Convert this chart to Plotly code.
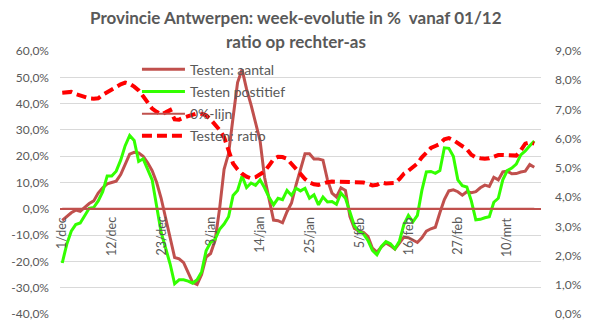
import plotly.graph_objects as go

# ---- data ----
n_days = 106

testen_aantal = [
    -4.4, -3, -1.5, -0.5, -1, 0.5, 2, 3, 6, 8,
    9.5, 10, 10.5, 13, 17, 20.8, 21.5, 21.2, 20, 17.5,
    14.5, 10, 4, -3, -11, -18.5, -19, -20.5, -24, -28,
    -28.8, -25, -18.4, -17, -12, 0, 15, 21, 34.7, 48,
    53, 45.5, 39.5, 32.5, 26, 12, 4, -4.3, -4.5, -5.3,
    -1.1, 2.2, 9, 15, 20.9, 20.9, 18.9, 18.9, 18.5, 11,
    6, 4.5, 8, 7, -3, -7.5, -8.5, -9, -10.5, -15,
    -16.5, -14.5, -13, -14, -15.3, -13, -10.8, -11, -12, -12.8,
    -11, -8.5, -7.6, -7, -1.5, 3.5, 6.8, 7.2, 6.5, 5.2,
    6.5, 6.1, 6.5, 8, 9, 8.5, 12, 11, 14, 14.3,
    13.3, 13.4, 14, 14.3, 16.8, 15.8,
]

testen_positief = [
    -20.6, -13.5, -8.5, -6, -5.4, -2.5, 0.2, 0.5, 3, 6.5,
    12.5, 12.5, 14.3, 18.5, 24, 27.9, 26, 18, 19, 15,
    11, 1, -9, -15, -21, -28.5, -27, -27, -27.5, -28.3,
    -27, -24, -16, -12.8, -11.6, -7.8, -5.8, -3, 5.1, 7,
    12.5, 8.1, 9.8, 8.9, 11, 8, 4.4, 1.5, 4, 3.5,
    7, 5.1, 7.8, 6.8, 7.8, 4, 5.3, 1.5, 4.5, 2.6,
    2.8, 1.7, 6, 4, -1, -6.5, -8.5, -9.5, -12, -15.8,
    -17.5, -14.3, -12.5, -13.3, -15.2, -12.3, -6, -2.5, -5, -2.5,
    7, 14, 14.2, 13.5, 14.5, 23.2, 23, 20, 11, 8.8,
    8.3, 3, -4.2, -4, -3.4, -3, 2.5, 4, 11, 14.5,
    15.5, 17, 20.5, 22, 24, 25.8,
]

nul_lijn = [0.0] * n_days

testen_ratio = [
    7.57, 7.6, 7.6, 7.53, 7.47, 7.42, 7.38, 7.37, 7.38, 7.5,
    7.6, 7.7, 7.79, 7.86, 7.92, 7.88, 7.78, 7.65, 7.45, 7.25,
    7.03, 6.92, 6.83, 6.9, 6.98, 6.66, 6.65, 6.72, 6.77, 6.83,
    6.87, 6.85, 6.8, 6.66, 6.5, 6.3, 6.05, 5.55, 5.15, 4.95,
    4.8, 4.7, 4.64, 4.68, 4.78, 4.88, 5.08, 5.3, 5.38, 5.37,
    5.31, 5.13, 4.95, 4.8, 4.62, 4.5, 4.44, 4.42, 4.48, 4.51,
    4.53, 4.53, 4.53, 4.53, 4.53, 4.53, 4.53, 4.5, 4.46, 4.4,
    4.42, 4.5, 4.47, 4.46, 4.48, 4.62, 4.8, 4.9, 5.02, 5.15,
    5.36, 5.52, 5.68, 5.75, 5.82, 5.98, 6.02, 5.95, 5.85, 5.75,
    5.64, 5.45, 5.36, 5.33, 5.31, 5.33, 5.39, 5.44, 5.44, 5.44,
    5.43, 5.42, 5.6, 5.83, 5.87, 5.83,
]

tick_days = [0, 11, 22, 33, 44, 55, 66, 77, 88, 99]
tick_labels = ["1/dec", "12/dec", "23/dec", "3/jan", "14/jan",
               "25/jan", "5/feb", "16/feb", "27/feb", "10/mrt"]

left_ticks = [60, 50, 40, 30, 20, 10, 0, -10, -20, -30, -40]
left_labels = ["60,0%", "50,0%", "40,0%", "30,0%", "20,0%", "10,0%",
               "0,0%", "-10,0%", "-20,0%", "-30,0%", "-40,0%"]
right_ticks = [9, 8, 7, 6, 5, 4, 3, 2, 1, 0]
right_labels = ["9,0%", "8,0%", "7,0%", "6,0%", "5,0%", "4,0%",
                "3,0%", "2,0%", "1,0%", "0,0%"]

# ---- figure ----
days = list(range(n_days))
FONT = "Lato"
GREY = "#595959"

fig = go.Figure()
fig.add_trace(go.Scatter(x=days, y=testen_aantal, name="Testen: aantal",
                         mode="lines", line=dict(color="#C0504D", width=3),
                         legendgroup="a"))
fig.add_trace(go.Scatter(x=days, y=testen_positief, name="Testen postitief",
                         mode="lines", line=dict(color="#33FF00", width=3),
                         legendgroup="b"))
fig.add_trace(go.Scatter(x=days, y=nul_lijn, name="0%-lijn",
                         mode="lines", line=dict(color="#C0504D", width=2),
                         legendgroup="c"))
fig.add_trace(go.Scatter(x=days, y=testen_ratio, name="Testen: ratio",
                         mode="lines", yaxis="y2",
                         line=dict(color="#FF0000", width=4, dash="10px,5px"),
                         legendgroup="d"))

for d, lab in zip(tick_days, tick_labels):
    fig.add_annotation(x=d, y=0, xref="x", yref="y", text=lab,
                       textangle=-90, showarrow=False,
                       xanchor="center", yanchor="top", yshift=-6,
                       font=dict(family=FONT, size=12.5, color=GREY))

fig.add_annotation(x=0.49, y=1.126, xref="paper", yref="paper",
                   text="<b>Provincie Antwerpen: week-evolutie in %\u00a0\u00a0vanaf 01/12</b>",
                   showarrow=False, xanchor="center", yanchor="middle",
                   font=dict(family=FONT, size=17, color=GREY))
fig.add_annotation(x=0.49, y=1.037, xref="paper", yref="paper",
                   text="<b>ratio op rechter-as</b>",
                   showarrow=False, xanchor="center", yanchor="middle",
                   font=dict(family=FONT, size=17, color=GREY))

fig.update_layout(
    width=593, height=332,
    margin=dict(l=59, r=46, t=51, b=11),
    paper_bgcolor="white", plot_bgcolor="white",
    showlegend=True,
    legend=dict(x=0.16, y=0.99, xanchor="left", yanchor="top",
                bgcolor="rgba(0,0,0,0)", traceorder="grouped",
                tracegroupgap=1, itemwidth=43,
                font=dict(family=FONT, size=14, color=GREY)),
    xaxis=dict(range=[-0.5, 106.5], showgrid=False, showticklabels=False,
               zeroline=False, showline=False, ticks=""),
    yaxis=dict(range=[-40, 60], tickvals=left_ticks, ticktext=left_labels,
               showgrid=True, gridcolor="#D9D9D9", gridwidth=1,
               zeroline=True, zerolinecolor="#C0504D", zerolinewidth=2,
               showline=False, ticklabelstandoff=10,
               tickfont=dict(family=FONT, size=12, color=GREY)),
    yaxis2=dict(range=[0, 9], tickvals=right_ticks, ticktext=right_labels,
                overlaying="y", side="right",
                showgrid=False, zeroline=False, showline=False,
                ticklabelstandoff=13,
                tickfont=dict(family=FONT, size=12, color=GREY)),
)

fig.write_html("out.html")
